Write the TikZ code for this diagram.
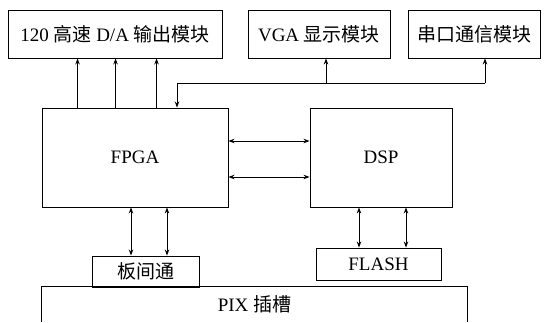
\documentclass[tikz,border=0pt]{standalone}
\usepackage{fontspec}
\setmainfont{Liberation Serif}
\newfontfamily\cjk{Noto Sans CJK SC}
\usetikzlibrary{arrows.meta,calc}
\begin{document}
\begin{tikzpicture}[x=1pt,y=-1pt,
  box/.style={draw,line width=0.9pt,inner sep=0pt,font=\fontsize{19}{22}\selectfont},
  arr/.style={line width=0.9pt,-{Stealth[length=6pt,width=4.5pt]}},
  darr/.style={line width=0.9pt,{Stealth[length=6pt,width=4.5pt]}-{Stealth[length=6pt,width=4.5pt]}}]
\useasboundingbox (0,0) rectangle (549,322);
\node[box,minimum width=214pt,minimum height=48pt] (da) at (115,34) {120 {\cjk 高速} D/A {\cjk 输出模块}};
\node[box,minimum width=142pt,minimum height=48pt] (vga) at (319,34) {VGA {\cjk 显示模块}};
\node[box,minimum width=132pt,minimum height=48pt] (ser) at (474,34) {\cjk 串口通信模块};
\node[box,minimum width=186pt,minimum height=99pt] (fpga) at (135,157.5) {FPGA};
\node[box,minimum width=142pt,minimum height=99pt] (dsp) at (381,157.5) {DSP};
\node[box,minimum width=107pt,minimum height=31pt] (bjt) at (145.5,271.5) {\cjk 板间通};
\node[box,minimum width=125pt,minimum height=32pt] (flash) at (378.5,264) {FLASH};
\node[box,draw=none,minimum width=425pt,minimum height=35pt] (pix) at (254.5,304.5) {PIX {\cjk 插槽}};
\draw[line width=0.9pt] (pix.south west) -- (pix.north west) -- (pix.north east) -- (pix.south east);
% FPGA to D/A
\foreach \dx in {36,74,115}
  \draw[arr] ([xshift=\dx pt]fpga.north west) -- ([xshift=\dx pt]fpga.north west |- da.south);
% bus
\coordinate (busL) at (177,83);
\coordinate (busV) at (326,83);
\coordinate (busR) at (485,83);
\draw[arr] (busR) -- (busL) -- (busL |- fpga.north);
\draw[arr] (busR) -- (busR |- ser.south);
\draw[arr] (busV) -- (busV |- vga.south);
% FPGA <-> DSP
\coordinate (h1) at (0,141);
\coordinate (h2) at (0,177);
\draw[darr] (fpga.east |- h1) -- (dsp.west |- h1);
\draw[darr] (fpga.east |- h2) -- (dsp.west |- h2);
% FPGA <-> board
\coordinate (v1) at (131,0);
\coordinate (v2) at (167,0);
\draw[darr] (v1 |- fpga.south) -- (v1 |- bjt.north);
\draw[darr] (v2 |- fpga.south) -- (v2 |- bjt.north);
% DSP <-> FLASH
\coordinate (v3) at (359,0);
\coordinate (v4) at (406,0);
\draw[darr] (v3 |- dsp.south) -- (v3 |- flash.north);
\draw[darr] (v4 |- dsp.south) -- (v4 |- flash.north);
\end{tikzpicture}
\end{document}
